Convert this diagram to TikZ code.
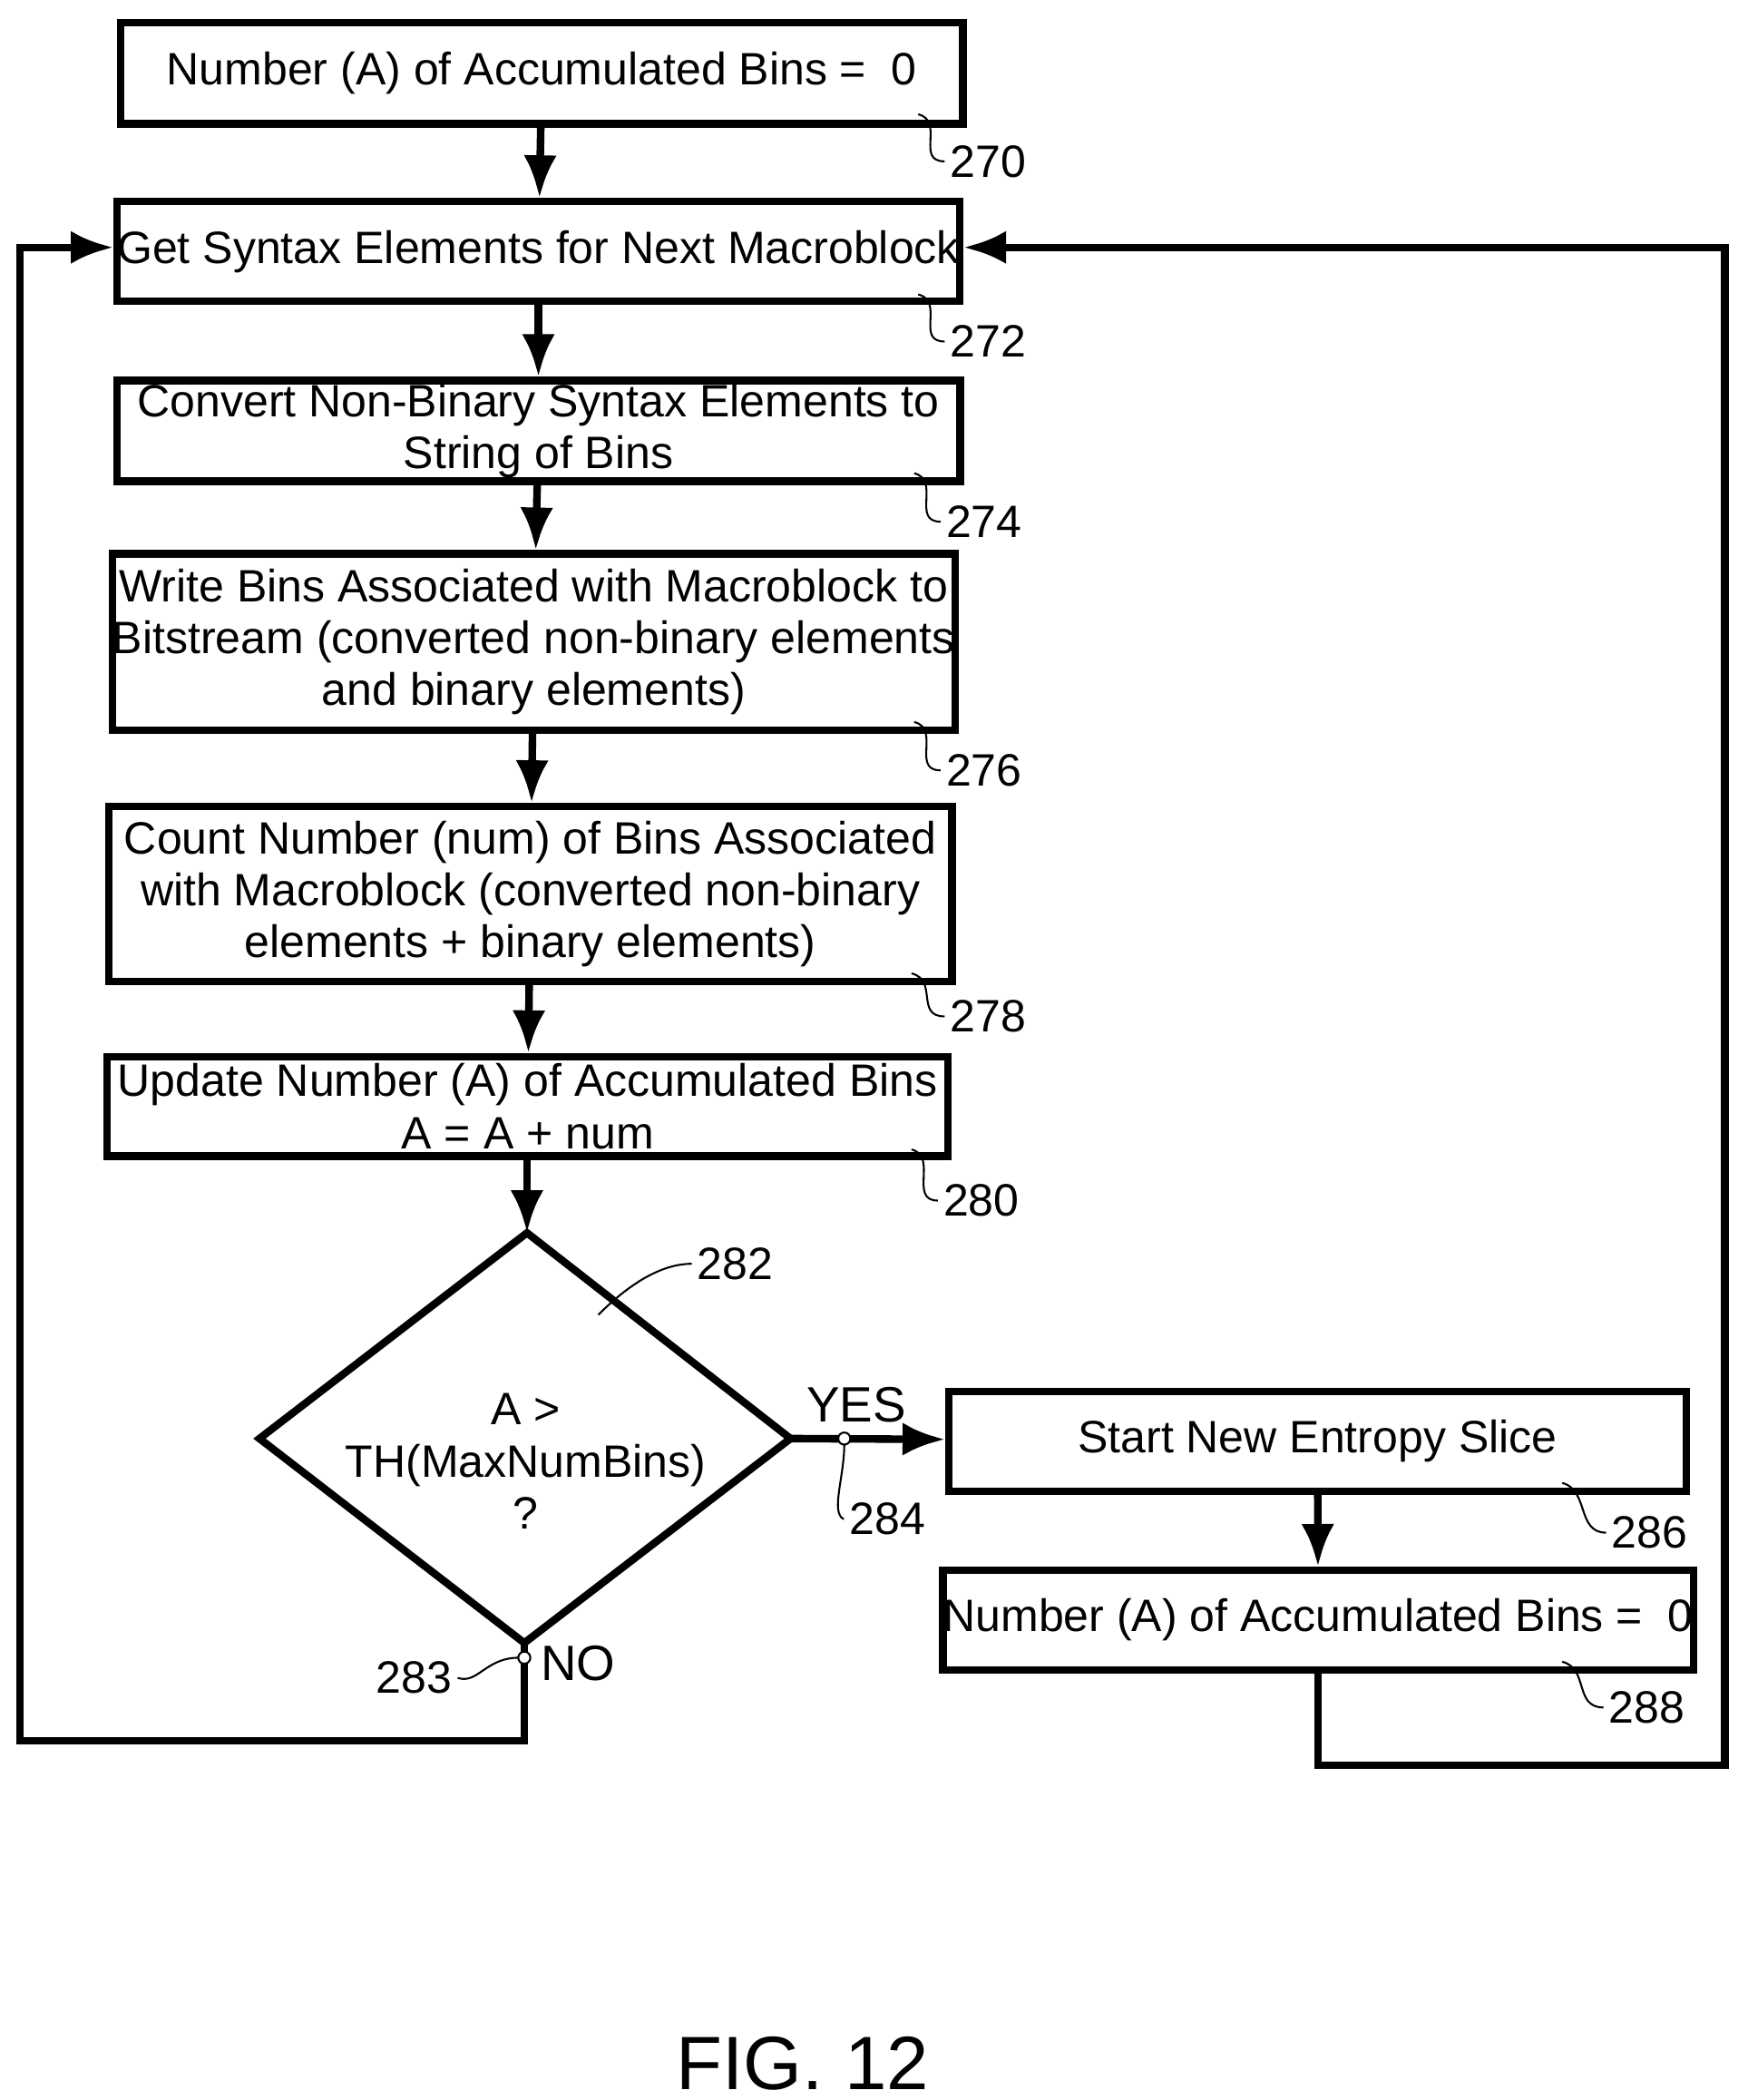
\documentclass[tikz,border=0pt]{standalone}
\usepackage{fontspec}
\setmainfont{Liberation Sans}
\usetikzlibrary{arrows.meta}
\tikzset{box/.style={draw, line width=1.6pt, inner sep=0pt, align=center, font=\fontsize{9.6}{11}\selectfont}}
\tikzset{flow/.style={line width=1.6pt, -{Latex[length=9pt,width=7pt]}}}
\tikzset{lead/.style={thin}}
\tikzset{num/.style={font=\fontsize{9.6}{11}\selectfont, inner sep=1pt}}
\begin{document}
\begin{tikzpicture}[x=0.01cm,y=-0.01cm]
\useasboundingbox (0,0) rectangle (1300,1562);
\node (b270)[box, minimum width=6.26cm, minimum height=0.75cm] at (403,54.5) {Number (A) of Accumulated Bins =\ \ 0};
\node (b272)[box, minimum width=6.25cm, minimum height=0.74cm] at (400.5,187) {Get Syntax Elements for Next Macroblock};
\node (b274)[box, minimum width=6.27cm, minimum height=0.75cm] at (400.5,320.5) {Convert Non-Binary Syntax Elements to\\String of Bins};
\node (b276)[box, minimum width=6.26cm, minimum height=1.31cm] at (397,477.5) {Write Bins Associated with Macroblock to\\Bitstream (converted non-binary elements\\and binary elements)};
\node (b278)[box, minimum width=6.27cm, minimum height=1.30cm] at (394.5,665) {Count Number (num) of Bins Associated\\with Macroblock (converted non-binary\\elements + binary elements)};
\node (b280)[box, minimum width=6.25cm, minimum height=0.74cm] at (392.5,823) {Update Number (A) of Accumulated Bins\\A = A + num};
% decision diamond
\coordinate (d282n) at (392,917);
\coordinate (d282w) at (193,1070);
\coordinate (d282e) at (588,1070);
\coordinate (d282s) at (390,1222);
\draw[line width=1.6pt, line join=miter] (d282n) -- (d282e) -- (d282s) -- (d282w) -- cycle;
\node (d282)[box, draw=none] at (391,1087) {A >\\TH(MaxNumBins)\\?};
\node (b286)[box, minimum width=5.48cm, minimum height=0.74cm] at (980,1072) {Start New Entropy Slice};
\node (b288)[box, minimum width=5.47cm, minimum height=0.74cm] at (980.5,1205) {Number (A) of Accumulated Bins =\ \ 0};
\node (fig)[font=\fontsize{16}{18}\selectfont] at (597,1535) {FIG. 12};
% main flow
\draw[flow] (b270) -- (b272);
\draw[flow] (b272) -- (b274);
\draw[flow] (b274) -- (b276);
\draw[flow] (b276) -- (b278);
\draw[flow] (b278) -- (b280);
\draw[flow] (b280.south -| d282n) -- (d282n);
\draw[flow] (d282e) -- (b286);
\draw[flow] (b286) -- (b288);
% loops
\coordinate (c1) at (15,1295);
\coordinate (c2) at (15,184);
\coordinate (c3) at (1283,1313);
\coordinate (c4) at (1283,184);
\draw[flow] (d282s) |- (c1) -- (c2) -- (c2 -| b272.west);
\draw[flow] (b288.south) |- (c3) -- (c4) -- (c4 -| b272.east);
\node[num, font=\fontsize{10.5}{12}\selectfont] (yes) at (637,1045) {YES};
\node[num, font=\fontsize{10.5}{12}\selectfont] (no) at (430,1237) {NO};
\draw[thin, fill=white] (628,1070) circle (4.5) (390,1233) circle (4.5);
% reference numerals
\foreach \n/\ax/\ay/\lx/\ly in {270/683/85/735/120, 272/683/219/735/254, 274/680/352/732/388, 276/680/537/732/573, 278/678/724/735/756, 280/678/855/730/893, 286/1162/1103/1227/1140, 288/1162/1236/1225/1270}{
  \node[num] (n\n) at (\lx,\ly) {\n};
  \coordinate (a\n) at (\ax,\ay);
  \draw[lead] (a\n) .. controls +(20,5) and +(-22,0) .. (n\n.west);
}
\node[num] (n282) at (547,940) {282};
\coordinate (a282) at (445,978);
\draw[lead] (a282) .. controls +(20,-20) and +(-25,0) .. (n282.west);
\node[num] (n284) at (660,1130) {284};
\coordinate (a284) at (628,1074);
\draw[lead] (a284) .. controls +(0,25) and +(-10,-5) .. (n284.west);
\node[num] (n283) at (308,1248) {283};
\coordinate (a283) at (386,1233);
\draw[lead] (a283) .. controls +(-25,0) and +(15,5) .. (n283.east);
\end{tikzpicture}
\end{document}
